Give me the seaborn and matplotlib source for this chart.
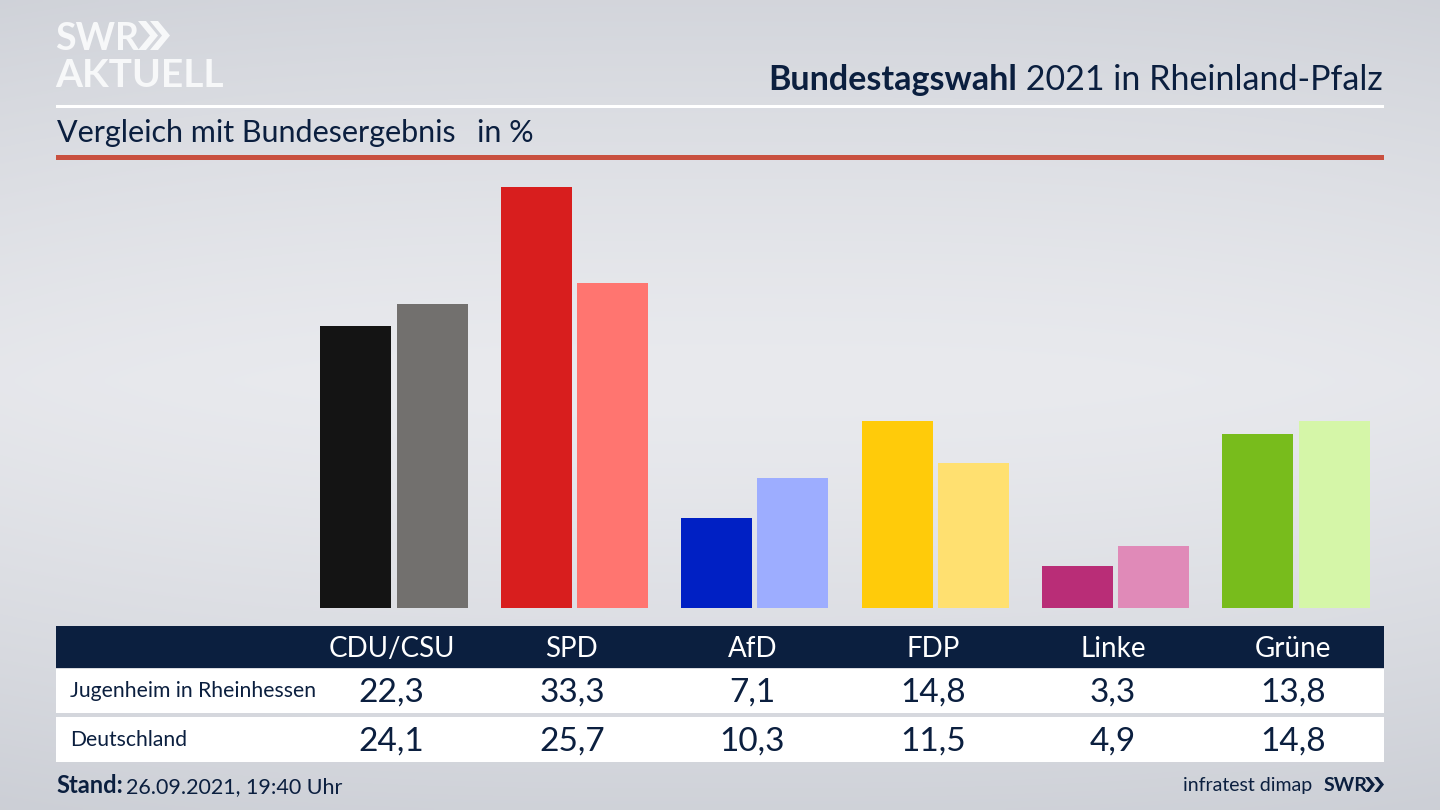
import numpy as np
import pandas as pd
import matplotlib.pyplot as plt
from matplotlib.patches import Rectangle, Polygon
import seaborn as sns

parties = ['CDU/CSU', 'SPD', 'AfD', 'FDP', 'Linke', 'Grüne']
regions = ['Jugenheim in Rheinhessen', 'Deutschland']
local_values = [22.3, 33.3, 7.1, 14.8, 3.3, 13.8]
national_values = [24.1, 25.7, 10.3, 11.5, 4.9, 14.8]
local_colors = ['#141414', '#d81e1e', '#0020c4', '#ffcb0a', '#b92d77', '#78bc1c']
national_colors = ['#72706e', '#ff7570', '#9dadff', '#ffe070', '#e08ab8', '#d5f6a8']

navy = '#0b1f3f'
W, H = 1440, 810

df = pd.DataFrame({
    'party': parties * 2,
    'region': [regions[0]] * 6 + [regions[1]] * 6,
    'value': local_values + national_values,
})

sns.set_theme(style='white')
plt.rcParams['font.family'] = ['Lato', 'DejaVu Sans']

fig = plt.figure(figsize=(14.4, 8.1), dpi=100)

# background, light band in the middle and darker at the edges
bg = fig.add_axes([0, 0, 1, 1], zorder=0)
yy, xx = np.mgrid[0:1:200j, 0:1:356j]
shade = np.abs(yy - 0.47) / 0.53
shade = np.clip(shade ** 1.3 * 0.85 + np.abs(xx - 0.5) ** 3 * 0.9, 0, 1)
light = np.array([233, 234, 238]) / 255
dark = np.array([203, 206, 213]) / 255
img = light + (dark - light) * shade[..., None]
bg.imshow(img, extent=[0, W, H, 0], aspect='auto', interpolation='bilinear')
bg.axis('off')

# bars, 180.4 px per party and 12.63 px per percent
left = 394 - 90.2
ymax = 35
ax = fig.add_axes([left / W, (H - 608) / H, 1082.4 / W, ymax * 12.63 / H], zorder=1)
ax.patch.set_alpha(0)
sns.barplot(data=df, x='party', y='value', hue='region', order=parties, hue_order=regions,
            width=0.843, gap=0.066, legend=False, ax=ax)
for patch, color in zip(ax.patches, local_colors + national_colors):
    patch.set_facecolor(color)
    patch.set_edgecolor('none')
ax.set_xlim(-0.5, 5.5)
ax.set_ylim(0, ymax)
ax.axis('off')

# everything else in pixel coordinates
ov = fig.add_axes([0, 0, 1, 1], zorder=2)
ov.set_xlim(0, W)
ov.set_ylim(H, 0)
ov.axis('off')
ov.patch.set_alpha(0)

ov.add_patch(Rectangle((56, 104.5), 1328, 3, color='white', lw=0))
ov.add_patch(Rectangle((56, 155), 1328, 5, color='#c9503f', lw=0))
ov.add_patch(Rectangle((56, 626), 1328, 42, color=navy, lw=0))
ov.add_patch(Rectangle((56, 669), 1328, 44, color='white', lw=0))
ov.add_patch(Rectangle((56, 717), 1328, 45, color='white', lw=0))

# logo
logo = '#f7f8f9'
ov.text(55, 50, 'SWR', fontsize=27, fontweight='bold', color=logo, va='baseline')
ov.text(55, 87, 'AKTUELL', fontsize=28, fontweight='bold', color=logo, va='baseline')
for x0 in (138, 150):
    ov.add_patch(Polygon([(x0, 21), (x0 + 8, 21), (x0 + 20, 35.5), (x0 + 8, 50), (x0, 50), (x0 + 12, 35.5)],
                         color=logo, lw=0))

# title, bold and regular parts right aligned together
t2 = ov.text(1383, 90, ' 2021 in Rheinland-Pfalz', fontsize=24.5, color=navy, ha='right', va='baseline')
fig.canvas.draw()
x_bold = t2.get_window_extent().x0
ov.text(x_bold, 90, 'Bundestagswahl', fontsize=24.5, fontweight='bold', color=navy, ha='right', va='baseline')

ov.text(57, 142, 'Vergleich mit Bundesergebnis', fontsize=22, color=navy, va='baseline')
ov.text(477, 142, 'in %', fontsize=22, color=navy, va='baseline')

# table
centers = [391.5 + 180.4 * i for i in range(len(parties))]
for x, party, a, b in zip(centers, parties, local_values, national_values):
    ov.text(x, 657, party, fontsize=20, color='white', ha='center', va='baseline')
    ov.text(x, 702, f'{a:.1f}'.replace('.', ','), fontsize=24, color=navy, ha='center', va='baseline')
    ov.text(x, 751, f'{b:.1f}'.replace('.', ','), fontsize=24, color=navy, ha='center', va='baseline')
ov.text(70, 697, regions[0], fontsize=15.2, color=navy, va='baseline')
ov.text(70, 746, regions[1], fontsize=15.2, color=navy, va='baseline')

# footer
ov.text(56, 793, 'Stand:', fontsize=17, fontweight='bold', color=navy, va='baseline')
ov.text(126, 793, '26.09.2021, 19:40 Uhr', fontsize=15.5, color=navy, va='baseline')
ov.text(1312, 791, 'infratest dimap', fontsize=14, color=navy, ha='right', va='baseline')
ov.text(1324, 791, 'SWR', fontsize=14, fontweight='bold', color=navy, va='baseline')
for x0 in (1365, 1374):
    ov.add_patch(Polygon([(x0, 777), (x0 + 4, 777), (x0 + 10, 784.5), (x0 + 4, 792), (x0, 792), (x0 + 6, 784.5)],
                         color=navy, lw=0))

fig.savefig('out.png', dpi=100)
